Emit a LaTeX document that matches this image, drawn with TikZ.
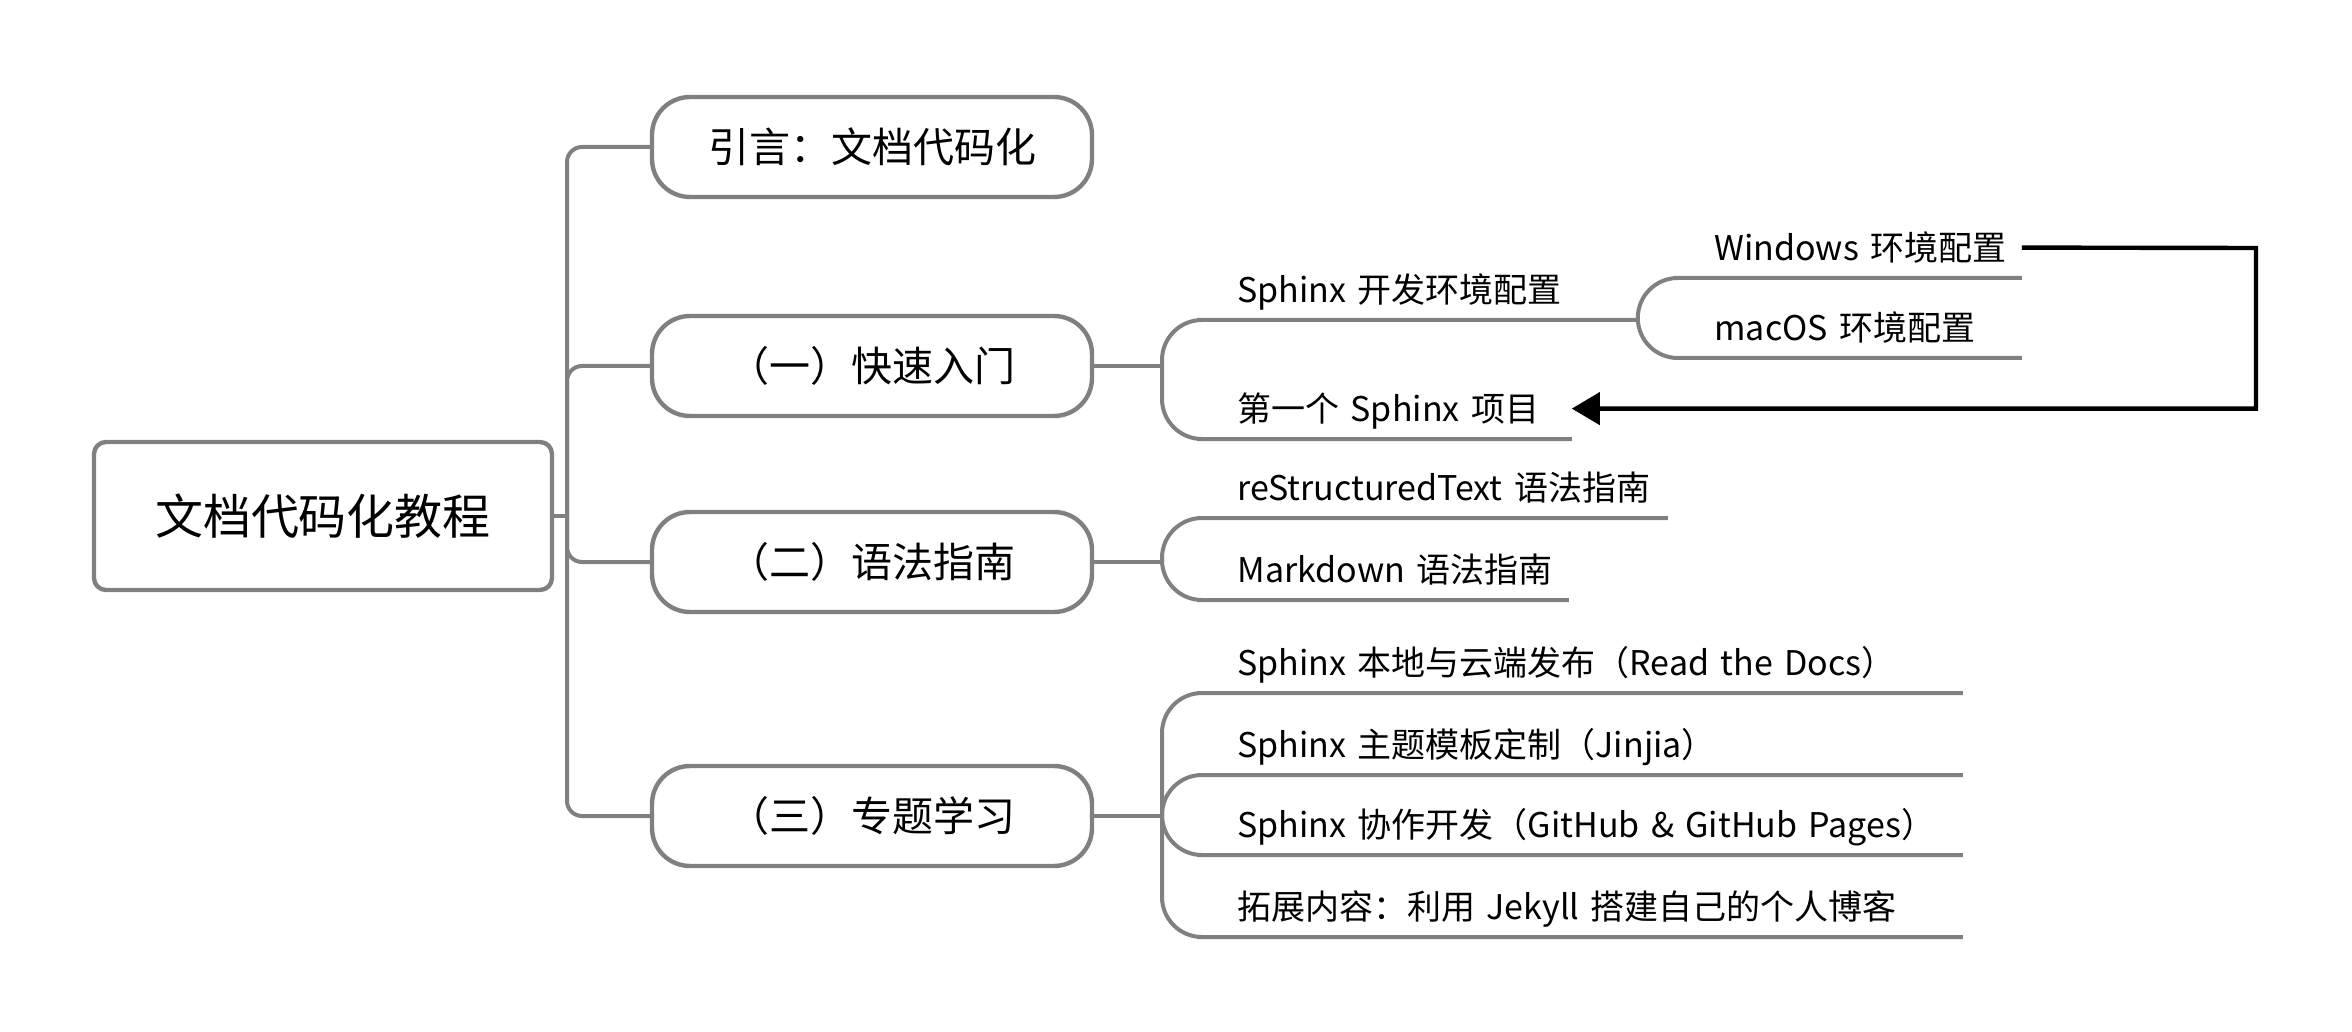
\documentclass[tikz,border=0pt]{standalone}
\usepackage{fontspec}
\setmainfont{Noto Sans CJK SC}
\usetikzlibrary{arrows.meta}
\definecolor{linegray}{HTML}{808080}
\tikzset{
  branch/.style={draw=linegray, line width=2pt},
  rootbox/.style={draw=linegray, line width=2.2pt, fill=white, rounded corners=6pt,
    minimum width=229pt, minimum height=74pt, font=\fontsize{24pt}{28pt}\selectfont},
  sectbox/.style={draw=linegray, line width=2.2pt, fill=white, rounded corners=19pt,
    minimum width=220pt, minimum height=50pt, font=\fontsize{20.5pt}{24pt}\selectfont},
  leaf/.style={anchor=south west, inner sep=0pt, text height=21.5pt, text depth=8.5pt,
    font=\fontsize{17pt}{20pt}\selectfont},
  feedback/.style={draw=black, line width=2.2pt, -{Triangle[length=14pt,width=16pt]}}
}
\begin{document}
\begin{tikzpicture}[x=0.5pt, y=-0.5pt]
\useasboundingbox (0,0) rectangle (2352,1032);

% main topic and sections
\node[rootbox] (root) at (323,516) {文档代码化教程};
\node[sectbox] (intro) at (872,147) {引言：文档代码化};
\node[sectbox] (quick) at (872,366) {（一）快速入门};
\node[sectbox] (syntax) at (872,562) {（二）语法指南};
\node[sectbox] (topics) at (872,816) {（三）专题学习};

\coordinate (trunk) at (567,516);
\draw[branch] (root.east) -- (trunk);
\foreach \s in {intro,quick,syntax,topics}
  \draw[branch, rounded corners=7.5pt] (trunk) |- (\s.west);

% (一)
\coordinate (jq) at (1162,366);
\node[leaf, text width=200pt] (env) at (1237,320) {Sphinx 开发环境配置};
\node[leaf, text width=167pt] (first) at (1237,439) {第一个 Sphinx 项目};
\draw[branch] (quick.east) -- (jq);
\foreach \s in {env,first}
  \draw[branch, rounded corners=20pt] (jq) |- (\s.south west) -- (\s.south east);

\node[leaf, text width=153.5pt] (win) at (1714,278) {Windows 环境配置};
\node[leaf, text width=153.5pt] (mac) at (1714,358) {macOS 环境配置};
\foreach \s in {win,mac}
  \draw[branch, rounded corners=20pt] (env.south east) |- (\s.south west) -- (\s.south east);

\coordinate (turn) at (2256,248);
\draw[feedback] (win.east) -- (turn) |- (first.east);

% (二)
\coordinate (js) at (1162,562);
\node[leaf, text width=215pt] (rst) at (1237,518) {reStructuredText 语法指南};
\node[leaf, text width=165.5pt] (md) at (1237,600) {Markdown 语法指南};
\draw[branch] (syntax.east) -- (js);
\foreach \s in {rst,md}
  \draw[branch, rounded corners=20pt] (js) |- (\s.south west) -- (\s.south east);

% (三)
\coordinate (jt) at (1162,816);
\node[leaf, text width=362.5pt] (pub) at (1237,693) {Sphinx 本地与云端发布（Read the Docs）};
\node[leaf, text width=362.5pt] (theme) at (1237,775) {Sphinx 主题模板定制（Jinjia）};
\node[leaf, text width=362.5pt] (collab) at (1237,855) {Sphinx 协作开发（GitHub \& GitHub Pages）};
\node[leaf, text width=362.5pt] (blog) at (1237,937) {拓展内容：利用 Jekyll 搭建自己的个人博客};
\draw[branch] (topics.east) -- (jt);
\foreach \s in {pub,theme,collab,blog}
  \draw[branch, rounded corners=20pt] (jt) |- (\s.south west) -- (\s.south east);
\end{tikzpicture}
\end{document}
